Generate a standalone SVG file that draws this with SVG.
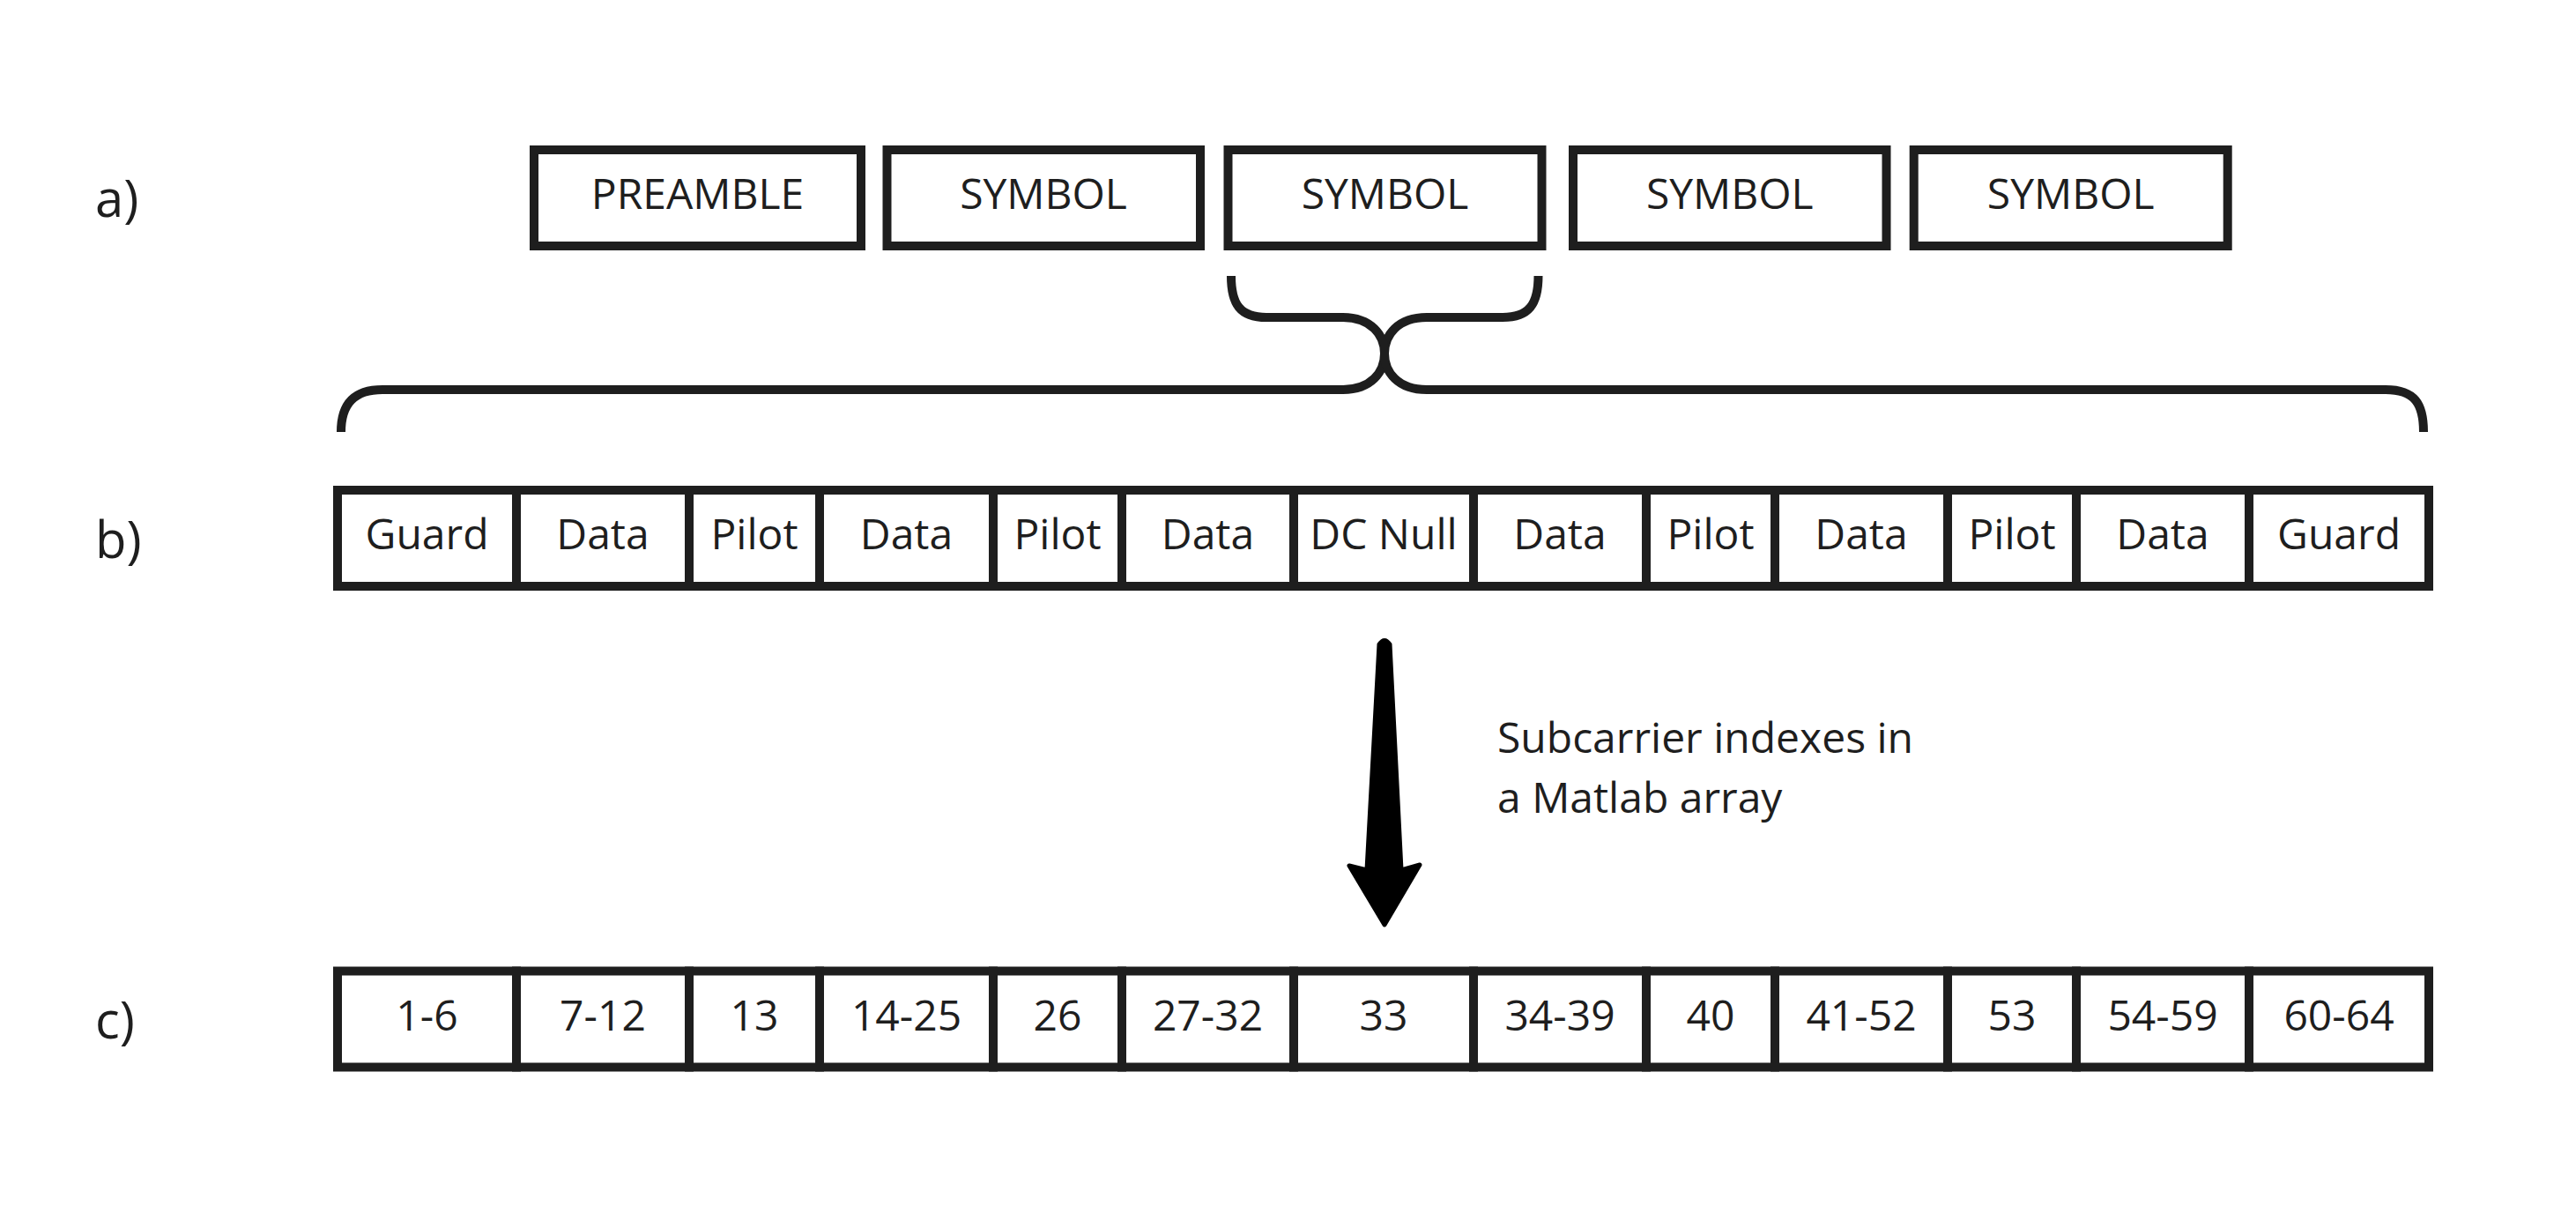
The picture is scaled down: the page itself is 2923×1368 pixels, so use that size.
<svg xmlns="http://www.w3.org/2000/svg" width="2923" height="1368" viewBox="0 0 2923 1368">
  <style>
    .box { fill: #ffffff; stroke: #1e1e1e; stroke-width: 10; }
    .t { font-family: "Open Sans", "Noto Sans", "Liberation Sans", sans-serif; font-size: 48px; fill: #1e1e1e; text-anchor: middle; }
    .lbl { font-family: "Open Sans", "Noto Sans", "Liberation Sans", sans-serif; font-size: 58px; fill: #1e1e1e; }
    .note { font-family: "Open Sans", "Noto Sans", "Liberation Sans", sans-serif; font-size: 48px; fill: #1e1e1e; }
    .brace { fill: none; stroke: #1e1e1e; stroke-width: 10; stroke-linecap: butt; }
    .arrow { fill: #000000; stroke: #000000; stroke-width: 5; stroke-linejoin: round; }
  </style>
  <rect x="0" y="0" width="2923" height="1368" fill="#ffffff"/>

  <g id="labels">
    <text class="lbl" x="108" y="246">a)</text>
    <text class="lbl" x="108" y="633">b)</text>
    <text class="lbl" x="108" y="1178">c)</text>
  </g>

  <!-- Row a -->
  <g id="a-preamble"><rect class="box" x="606" y="170" width="371" height="109"/><text class="t" x="791.5" y="237">PREAMBLE</text></g>
  <g id="a-symbol1"><rect class="box" x="1006.5" y="170" width="355.5" height="109"/><text class="t" x="1184" y="237">SYMBOL</text></g>
  <g id="a-symbol2"><rect class="box" x="1393.5" y="170" width="356" height="109"/><text class="t" x="1571.5" y="237">SYMBOL</text></g>
  <g id="a-symbol3"><rect class="box" x="1785" y="170" width="355.5" height="109"/><text class="t" x="1962.8" y="237">SYMBOL</text></g>
  <g id="a-symbol4"><rect class="box" x="2171.7" y="170" width="356" height="109"/><text class="t" x="2349.7" y="237">SYMBOL</text></g>

  <!-- Row b -->
  <g id="b-guard1"><rect class="box" x="383" y="556" width="203" height="109"/><text class="t" x="484.5" y="623">Guard</text></g>
  <g id="b-data1"><rect class="box" x="586" y="556" width="196" height="109"/><text class="t" x="684" y="623">Data</text></g>
  <g id="b-pilot1"><rect class="box" x="782" y="556" width="148" height="109"/><text class="t" x="856" y="623">Pilot</text></g>
  <g id="b-data2"><rect class="box" x="930" y="556" width="197" height="109"/><text class="t" x="1028.5" y="623">Data</text></g>
  <g id="b-pilot2"><rect class="box" x="1127" y="556" width="146" height="109"/><text class="t" x="1200" y="623">Pilot</text></g>
  <g id="b-data3"><rect class="box" x="1273" y="556" width="195" height="109"/><text class="t" x="1370.5" y="623">Data</text></g>
  <g id="b-dcnull"><rect class="box" x="1468" y="556" width="204" height="109"/><text class="t" x="1570" y="623">DC Null</text></g>
  <g id="b-data4"><rect class="box" x="1672" y="556" width="196" height="109"/><text class="t" x="1770" y="623">Data</text></g>
  <g id="b-pilot3"><rect class="box" x="1868" y="556" width="146" height="109"/><text class="t" x="1941" y="623">Pilot</text></g>
  <g id="b-data5"><rect class="box" x="2014" y="556" width="196" height="109"/><text class="t" x="2112" y="623">Data</text></g>
  <g id="b-pilot4"><rect class="box" x="2210" y="556" width="146" height="109"/><text class="t" x="2283" y="623">Pilot</text></g>
  <g id="b-data6"><rect class="box" x="2356" y="556" width="196" height="109"/><text class="t" x="2454" y="623">Data</text></g>
  <g id="b-guard2"><rect class="box" x="2552" y="556" width="204" height="109"/><text class="t" x="2654" y="623">Guard</text></g>

  <!-- Row c -->
  <g id="c-1-6"><rect class="box" x="383" y="1101.5" width="203" height="109"/><text class="t" x="484.5" y="1169">1-6</text></g>
  <g id="c-7-12"><rect class="box" x="586" y="1101.5" width="196" height="109"/><text class="t" x="684" y="1169">7-12</text></g>
  <g id="c-13"><rect class="box" x="782" y="1101.5" width="148" height="109"/><text class="t" x="856" y="1169">13</text></g>
  <g id="c-14-25"><rect class="box" x="930" y="1101.5" width="197" height="109"/><text class="t" x="1028.5" y="1169">14-25</text></g>
  <g id="c-26"><rect class="box" x="1127" y="1101.5" width="146" height="109"/><text class="t" x="1200" y="1169">26</text></g>
  <g id="c-27-32"><rect class="box" x="1273" y="1101.5" width="195" height="109"/><text class="t" x="1370.5" y="1169">27-32</text></g>
  <g id="c-33"><rect class="box" x="1468" y="1101.5" width="204" height="109"/><text class="t" x="1570" y="1169">33</text></g>
  <g id="c-34-39"><rect class="box" x="1672" y="1101.5" width="196" height="109"/><text class="t" x="1770" y="1169">34-39</text></g>
  <g id="c-40"><rect class="box" x="1868" y="1101.5" width="146" height="109"/><text class="t" x="1941" y="1169">40</text></g>
  <g id="c-41-52"><rect class="box" x="2014" y="1101.5" width="196" height="109"/><text class="t" x="2112" y="1169">41-52</text></g>
  <g id="c-53"><rect class="box" x="2210" y="1101.5" width="146" height="109"/><text class="t" x="2283" y="1169">53</text></g>
  <g id="c-54-59"><rect class="box" x="2356" y="1101.5" width="196" height="109"/><text class="t" x="2454" y="1169">54-59</text></g>
  <g id="c-60-64"><rect class="box" x="2552" y="1101.5" width="204" height="109"/><text class="t" x="2654" y="1169">60-64</text></g>

  <!-- Connectors -->
  <g id="connectors">
    <path class="brace" d="M387,490 C387,458 402,442 434,442 L1523,442 C1556,442 1571,422 1571,401 C1571,380 1586,360 1619,360 L1705,360 C1735,360 1745.5,345 1745.5,313"/>
    <path class="brace" d="M1397,313 C1397,345 1407,360 1437,360 L1523,360 C1556,360 1571,380 1571,401 C1571,422 1586,442 1619,442 L2707,442 C2740,442 2750,458 2750,490"/>
    <path class="arrow" d="M1565,731 Q1571,722 1577,731 L1590,987 L1611,981 L1571,1049 L1531,982 L1551,987 Z"/>
    <text class="note" x="1699" y="854">Subcarrier indexes in</text>
    <text class="note" x="1699" y="922">a Matlab array</text>
  </g>
</svg>
